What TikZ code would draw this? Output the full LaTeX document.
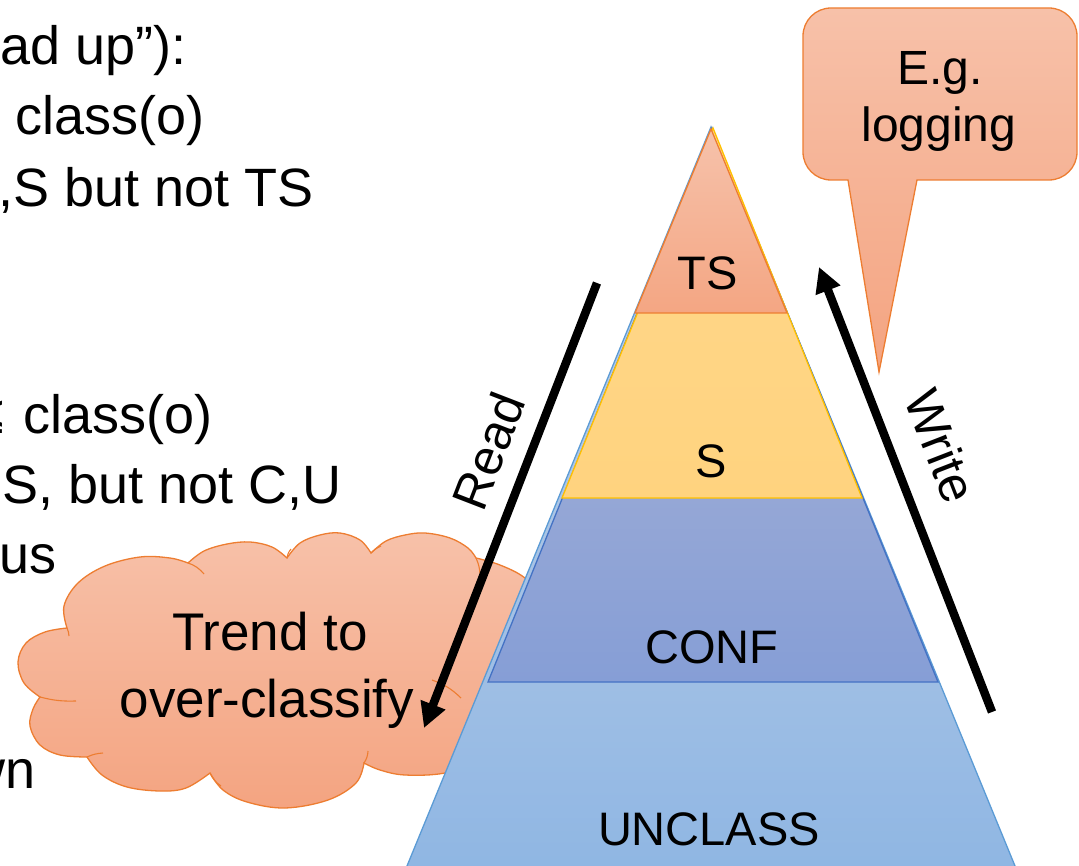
\documentclass[tikz,border=0pt]{standalone}
\usepackage{fontspec}
\setmainfont{Liberation Sans}
\usetikzlibrary{arrows.meta}

% accent colours
\definecolor{accOrange}{HTML}{ED7D31}
\definecolor{accGold}{HTML}{FFC000}
\definecolor{accBlue}{HTML}{4472C4}
\definecolor{accSky}{HTML}{5B9BD5}
% gradient stops
\definecolor{orTop}{RGB}{247,193,169}
\definecolor{orBot}{RGB}{244,164,129}
\definecolor{tsTop}{RGB}{246,194,171}
\definecolor{tsBot}{RGB}{244,166,131}
\definecolor{sTop}{RGB}{255,216,140}
\definecolor{sBot}{RGB}{255,211,127}
\definecolor{cTop}{RGB}{179,185,214}
\definecolor{cBot}{RGB}{134,158,214}
\definecolor{uTop}{RGB}{202,214,232}
\definecolor{uBot}{RGB}{141,181,227}

\tikzset{
  lefttext/.style={inner sep=0pt, font=\fontsize{54}{64}\selectfont},
  tiertext/.style={inner sep=0pt, anchor=base, font=\fontsize{47}{56}\selectfont},
  bubbletext/.style={inner sep=0pt, anchor=base, font=\fontsize{53}{62}\selectfont},
  calltext/.style={inner sep=0pt, anchor=base, font=\fontsize{48}{57}\selectfont},
  flowtext/.style={inner sep=0pt, font=\fontsize{50}{60}\selectfont},
  bigarrow/.style={line width=8.5pt, -{Triangle[length=25pt,width=25pt]}},
  tier/.style={line width=1.3pt, line join=miter},
  bubble/.style={draw=accOrange, line width=1.3pt, line join=miter,
    top color=orTop, bottom color=orBot},
  puffline/.style={draw=accOrange, line width=1.1pt},
  lobe/.style={smooth, tension=0.6},
}

\begin{document}
\begin{tikzpicture}[x=1pt,y=-1pt]
\useasboundingbox (0,0) rectangle (1079,866);
\clip (0,0) rectangle (1079,866);

% ---- text column on the left
\node[lefttext, anchor=base west] (l1) at (0,65) {ad up”):};
\node[lefttext, anchor=base west] (l2) at (15,135) {class(o)};
\node[lefttext, anchor=base east] (l3) at (314,207) {,S but not TS};
\node[lefttext, anchor=base east] (l4) at (213,433) {≤\hspace{5pt} class(o)};
\node[lefttext, anchor=base west] (l5) at (2,503) {S, but not C,U};
\node[lefttext, anchor=base west] (l6) at (-1,573) {us};
\node[lefttext, anchor=base east] (l7) at (36,788) {wn};

% ---- cloud: one lobe after another, clockwise from the left
\shade[bubble] (40,697)
  -- plot[lobe] coordinates {(40,697) (24,683) (18,662) (26,643) (45,632) (67,628)}
  -- plot[lobe] coordinates {(67,628) (64,606) (78,583) (105,566) (140,557) (170,558) (188,563)}
  -- plot[lobe] coordinates {(188,563) (204,551) (227,544) (250,542) (272,547) (287,558)}
  -- plot[lobe] coordinates {(287,558) (300,543) (320,535) (340,533) (360,540) (371,553)}
  -- plot[lobe] coordinates {(371,553) (386,541) (405,535) (425,533) (450,538) (468,548) (476,558)}
  -- plot[lobe] coordinates {(476,558) (500,565) (525,578) (548,602) (558,640) (545,675) (518,692)}
  -- plot[lobe] coordinates {(518,692) (508,730) (482,760) (445,773) (405,775) (380,770) (364,763)}
  -- plot[lobe] coordinates {(364,763) (356,783) (328,800) (285,808) (247,802) (223,790) (210,773)}
  -- plot[lobe] coordinates {(210,773) (186,788) (160,791) (127,787) (102,775) (87,757)}
  -- plot[lobe] coordinates {(87,757) (60,755) (40,745) (30,726) (33,709) (40,697)}
  -- cycle;
% inner puff lines where the lobes meet
\draw[puffline] (67,628) to[bend left=10] (69,636);
\draw[puffline] (188,563) to[bend left=15] (204,574);
\draw[puffline] (287,558) to[bend left=15] (291,549);
\draw[puffline] (371,553) to[bend left=10] (381,546);
\draw[puffline] (476,558) to[bend left=10] (480,574);
\draw[puffline] (432,680) to[bend left=12] (461,698);
\draw[puffline] (364,763) to[bend right=15] (368,751);
\draw[puffline] (210,773) to[bend right=15] (221,786);
\draw[puffline] (87,757) to[bend left=10] (103,753);
\draw[puffline] (40,697) to[bend right=8] (76,701);

\node[bubbletext] (trend1) at (270,650) {Trend to};
\node[bubbletext] (trend2) at (267,717) {over-classify};

% ---- classification pyramid
\shade[tier, draw=accSky, top color=uTop, bottom color=uBot]
  (711,127) -- (1029,900) -- (393,900) -- cycle;
\shade[tier, draw=accBlue, top color=cTop, bottom color=cBot]
  (712,128) -- (938,682) -- (488,682) -- cycle;
\shade[tier, draw=accGold, top color=sTop, bottom color=sBot]
  (713,128) -- (862,498) -- (562,498) -- cycle;
\shade[tier, draw=accOrange, top color=tsTop, bottom color=tsBot]
  (711,129) -- (787,313) -- (635,313) -- cycle;

\node[tiertext] (ts) at (708,290) {TS};
\node[tiertext] (s) at (711,477) {S};
\node[tiertext] (conf) at (712,663) {CONF};
\node[tiertext] (unclass) at (709,845) {UNCLASS};

% ---- callout
\shade[bubble] (831,8) -- (1049,8) arc[start angle=-90, end angle=0, radius=28]
  -- (1077,152) arc[start angle=0, end angle=90, radius=28]
  -- (917,180) -- (879,372) -- (848,180)
  -- (831,180) arc[start angle=90, end angle=180, radius=28]
  -- (803,36) arc[start angle=180, end angle=270, radius=28] -- cycle;
\node[calltext] (eg) at (940,85) {E.g.};
\node[calltext] (logging) at (939,142) {logging};

% ---- read / write arrows
\coordinate (readTail) at (597,283);
\coordinate (readTip) at (424,728);
\coordinate (writeTail) at (992,712);
\coordinate (writeTip) at (819,267);
\draw[bigarrow] (readTail) -- (readTip);
\draw[bigarrow] (writeTail) -- (writeTip);
\node[flowtext, rotate=68.9] (readLbl) at (488,451) {Read};
\node[flowtext, rotate=-68.8] (writeLbl) at (941,446) {Write};
\end{tikzpicture}
\end{document}
